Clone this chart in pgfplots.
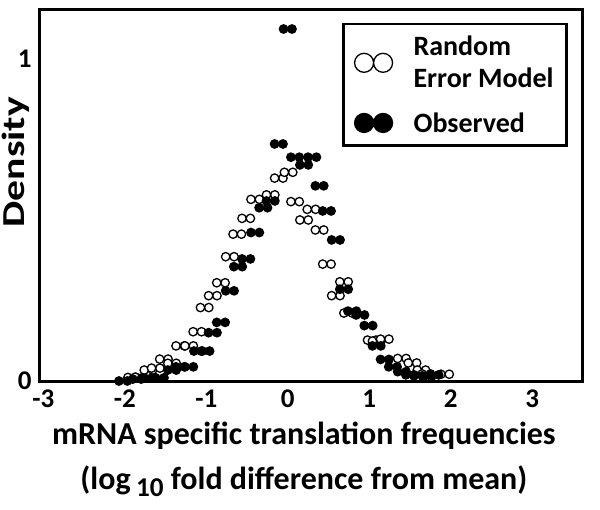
\documentclass[border=0pt]{standalone}
\usepackage{fontspec}
\setmainfont{Carlito}
\usepackage{graphicx}
\usepackage{pgfplots}
\pgfplotsset{compat=1.18}

\pgfdeclareplotmark{opair}{%
  \pgfpathcircle{\pgfpoint{-\pgfplotmarksize}{0pt}}{\pgfplotmarksize}%
  \pgfpathcircle{\pgfpoint{\pgfplotmarksize}{0pt}}{\pgfplotmarksize}%
  \pgfusepathqfillstroke}
\pgfdeclareplotmark{fpair}{%
  \pgfpathcircle{\pgfpoint{-\pgfplotmarksize}{0pt}}{\pgfplotmarksize}%
  \pgfpathcircle{\pgfpoint{\pgfplotmarksize}{0pt}}{\pgfplotmarksize}%
  \pgfusepathqfillstroke}

\begin{document}
\begin{tikzpicture}
\useasboundingbox (-40pt,-128pt) rectangle (560pt,381pt);
\begin{axis}[
  scale only axis, width=542pt, height=371pt,
  xmin=-3.04, xmax=3.61, ymin=0, ymax=1.152,
  axis line style={line width=3pt},
  xtick={-3,-2,-1,0,1,2,3}, ytick={0,1},
  major tick length=0pt,
  tick label style={font=\fontsize{27}{30}\selectfont\bfseries},
  xticklabel style={yshift=-5pt},
  yticklabel style={xshift=-5pt},
  /pgf/number format/assume math mode=true,
  clip=false,
  xlabel={mRNA specific translation frequencies\\(log\,\raisebox{-0.45ex}{\scalebox{0.85}{10}} fold difference from mean)},
  xlabel style={font=\fontsize{32}{45}\selectfont\bfseries, align=center,
    at={(axis description cs:0.487,-0.10)}, anchor=north},
  ylabel={\scalebox{1.3}[1]{Density}},
  ylabel style={font=\fontsize{32}{38}\selectfont\bfseries, at={(axis description cs:-0.044,0.59)}, anchor=center, rotate=0},
  legend style={at={(axis description cs:0.974,0.965)}, anchor=north east,
    draw=black, line width=2.5pt, font=\fontsize{28}{32}\selectfont\bfseries,
    cells={align=left, anchor=west}, row sep=19pt, column sep=19pt,
    inner xsep=11pt, inner ysep=10pt},
  legend cell align=left,
  legend image post style={mark size=9.5pt, line width=1.3pt},
]
\addplot[only marks, mark=opair, mark size=4.2pt, draw=black, fill=white, line width=1.3pt] coordinates {
(-1.91,0.011) (-1.82,0.012) (-1.71,0.034) (-1.62,0.040) (-1.52,0.068) (-1.42,0.055)
(-1.32,0.109) (-1.21,0.109) (-1.11,0.153) (-1.02,0.228) (-0.92,0.265) (-0.82,0.305)
(-0.71,0.386) (-0.62,0.456) (-0.51,0.505) (-0.40,0.564) (-0.21,0.578) (-0.11,0.630)
(0.01,0.648) (0.09,0.557) (0.20,0.500) (0.29,0.533) (0.39,0.469) (0.48,0.363)
(0.59,0.265) (0.69,0.308) (0.74,0.211) (1.03,0.127) (1.09,0.124) (1.19,0.130)
(1.40,0.070) (1.53,0.056) (1.64,0.034) (1.70,0.022) (1.93,0.021)
};
\addlegendentry{Random\\Error Model}
\addplot[only marks, mark=fpair, mark size=4.2pt, draw=black, fill=black, line width=1.3pt] coordinates {
(-2.02,0.000) (-1.85,0.006) (-1.72,0.009) (-1.57,0.010) (-1.42,0.034) (-1.32,0.044)
(-1.21,0.044) (-1.10,0.093) (-1.01,0.093) (-0.92,0.150) (-0.82,0.182) (-0.71,0.280)
(-0.61,0.355) (-0.51,0.379) (-0.40,0.461) (-0.30,0.538) (-0.21,0.559) (-0.11,0.736)
(0.00,1.093) (0.09,0.695) (0.20,0.671) (0.30,0.695) (0.39,0.606) (0.48,0.528)
(0.59,0.438) (0.69,0.285) (0.79,0.217) (0.89,0.205) (0.99,0.172) (1.09,0.109)
(1.19,0.067) (1.29,0.044) (1.40,0.029) (1.50,0.019) (1.60,0.016) (1.71,0.012)
(1.80,0.019)
};
\addlegendentry{Observed}
\end{axis}
\end{tikzpicture}
\end{document}
